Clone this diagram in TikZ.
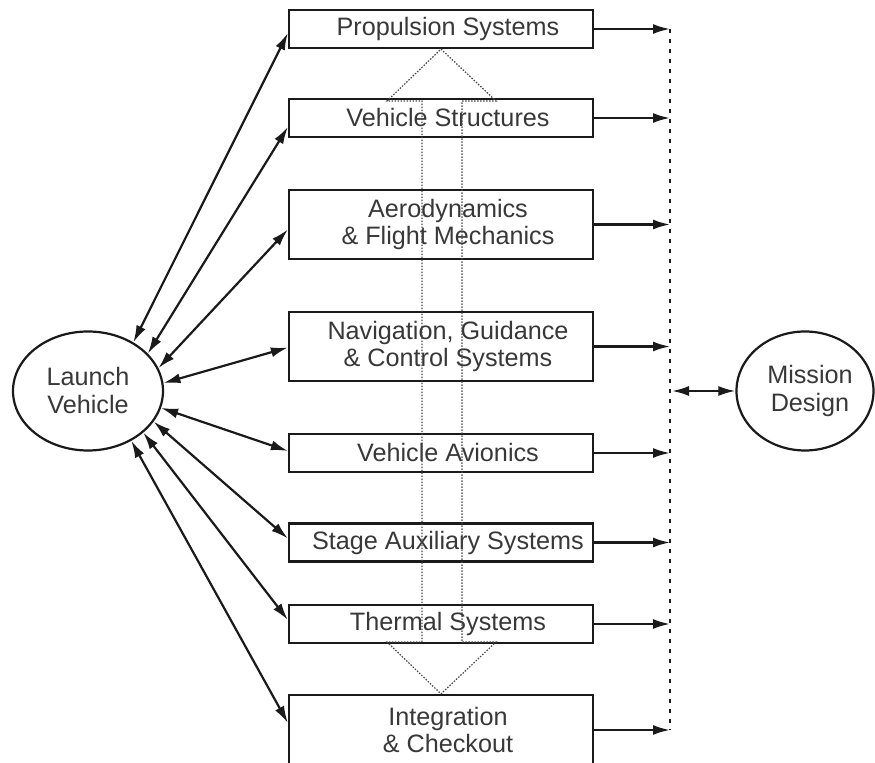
\documentclass[tikz,border=0pt]{standalone}
\usepackage{fontspec}
\setmainfont{Liberation Sans}
\usetikzlibrary{shapes.geometric,arrows.meta}
\definecolor{ink}{HTML}{1A1A1A}
\definecolor{txt}{HTML}{383838}
\definecolor{dotc}{HTML}{4A4A4A}
\begin{document}
\begin{tikzpicture}[x=0.5pt,y=-0.5pt,
  box/.style={draw=ink, line width=1.1pt, minimum width=152pt, minimum height=19pt, inner sep=0pt},
  tall/.style={minimum height=34.5pt},
  lbl/.style={font=\fontsize{12.6}{13.5}\selectfont, text=txt, align=center, xshift=3.5pt, inner sep=0pt},
  oval/.style={draw=ink, line width=1.1pt, ellipse, inner sep=0pt, minimum width=75pt, minimum height=59.5pt},
  otext/.style={font=\fontsize{12.6}{14}\selectfont, text=txt, align=center, inner sep=0pt},
  dbl/.style={ink, line width=1.1pt, {Latex[length=8.5pt,width=5pt]}-{Latex[length=8.5pt,width=5pt]}},
  arr/.style={ink, line width=1.1pt, -{Latex[length=8.5pt,width=5pt]}},
  bus/.style={ink, line width=1.3pt, dash pattern=on 2pt off 3pt},
  hollow/.style={dotc, line width=0.6pt, dash pattern=on 0.75pt off 0.75pt}]
\useasboundingbox (0,0) rectangle (875,763);
\clip (0,0) rectangle (875,763);

% boxes
\node[box, label={[lbl]center:Propulsion Systems}] (prop) at (441,29) {};
\node[box, label={[lbl]center:Vehicle Structures}] (struct) at (441,118) {};
\node[box, tall, label={[lbl]center:{Aerodynamics\\\& Flight Mechanics}}] (aero) at (441,224.5) {};
\node[box, tall, label={[lbl]center:{Navigation, Guidance\\\& Control Systems}}] (nav) at (441,346.5) {};
\node[box, label={[lbl]center:Vehicle Avionics}] (avio) at (441,453) {};
\node[box, label={[lbl]center:Stage Auxiliary Systems}] (stage) at (441,542.5) {};
\node[box, label={[lbl]center:Thermal Systems}] (therm) at (441,624) {};
\node[box, minimum height=35pt, label={[lbl]center:{Integration\\\& Checkout}}] (integ) at (441,730) {};

% ellipses
\node[oval, label={[otext]center:{Launch\\Vehicle}}] (lv) at (88,391) {};
\node[oval, minimum width=68.5pt, label={[otext, xshift=2.5pt]center:{Mission\\Design}}] (md) at (805,391) {};

% hollow double arrow (dotted outline)
\draw[hollow] (prop.south) -- (496,101) -- (462,101) -- (462,642) -- (496,642)
  -- (integ.north) -- (387,642) -- (422,642) -- (422,101) -- (387,101) -- cycle;

% connectors from Launch Vehicle
\draw[dbl] (lv.47) -- ([yshift=-2pt]prop.west);
\draw[dbl] (lv.32) -- ([yshift=-4.5pt]struct.west);
\draw[dbl] (lv.18) -- ([yshift=-2.5pt]aero.west);
\draw[dbl] (lv.6) -- ([yshift=-0.5pt]nav.west);
\draw[dbl] (lv.-13) -- ([yshift=1pt]avio.west);
\draw[dbl] (lv.-25) -- ([yshift=2pt]stage.west);
\draw[dbl] (lv.-37) -- ([yshift=2pt]therm.west);
\draw[dbl] (lv.-49) -- ([yshift=3.5pt]integ.west);

% bus on the right
\coordinate (b1) at (670,29);
\coordinate (b2) at (670,118);
\coordinate (b3) at (670,224.5);
\coordinate (b4) at (670,346.5);
\coordinate (b5) at (670,453);
\coordinate (b6) at (670,542.5);
\coordinate (b7) at (670,624);
\coordinate (b8) at (670,730);
\coordinate (bm) at (672,391);
\draw[bus] (b1) -- (b8);
\draw[arr] (prop.east) -- (b1);
\draw[arr] (struct.east) -- (b2);
\draw[arr] (aero.east) -- (b3);
\draw[arr] (nav.east) -- (b4);
\draw[arr] (avio.east) -- (b5);
\draw[arr] (stage.east) -- (b6);
\draw[arr] (therm.east) -- (b7);
\draw[arr] (integ.east) -- (b8);
\draw[dbl] (bm) -- (md.west);
\end{tikzpicture}
\end{document}
